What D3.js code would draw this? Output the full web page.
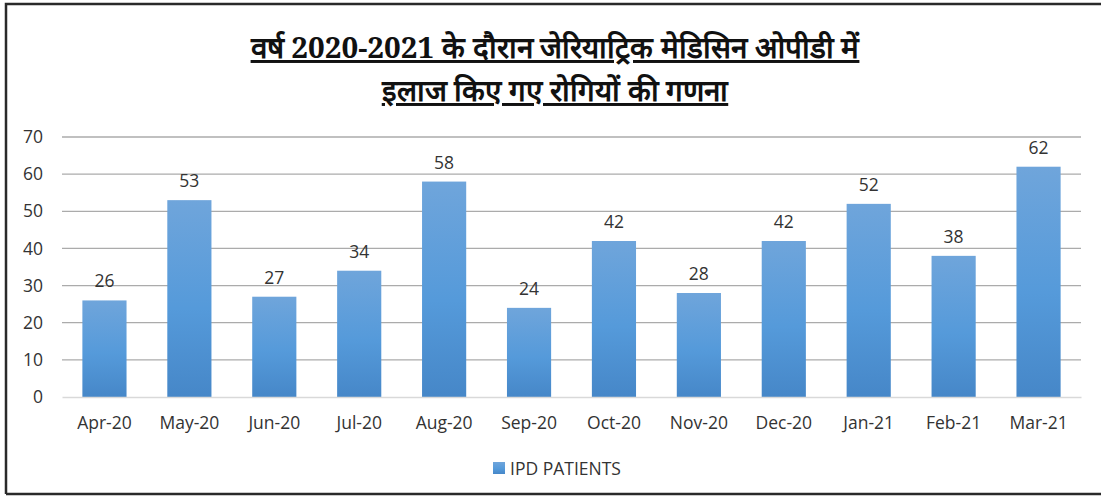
<!DOCTYPE html>
<html>
<head>
<meta charset="utf-8">
<script src="https://cdn.jsdelivr.net/npm/d3@7"></script>
<style>
  body { margin: 0; background: #fff; }
  svg { display: block; }
</style>
</head>
<body>
<script>
const width = 1101;
const height = 496;

const months = ["Apr-20", "May-20", "Jun-20", "Jul-20", "Aug-20", "Sep-20",
  "Oct-20", "Nov-20", "Dec-20", "Jan-21", "Feb-21", "Mar-21"];
const patients = [26, 53, 27, 34, 58, 24, 42, 28, 42, 52, 38, 62];
const yTicks = [0, 10, 20, 30, 40, 50, 60, 70];
const titleLines = ["वर्ष 2020-2021 के दौरान जेरियाट्रिक मेडिसिन ओपीडी में",
  "इलाज किए गए रोगियों की गणना"];
const seriesName = "IPD PATIENTS";

const padding = {left: 62, right: 20, top: 137, bottom: 99};
const labelFont = "'Open Sans', sans-serif";
const labelSize = 17.5;

const svg = d3.select("body")
  .append("svg")
  .attr("width", width)
  .attr("height", height);

const defs = svg.append("defs");
const grad = defs.append("linearGradient")
  .attr("id", "barGrad")
  .attr("x1", 0).attr("y1", 0).attr("x2", 0).attr("y2", 1);
grad.append("stop").attr("offset", "0%").attr("stop-color", "#6fa5db");
grad.append("stop").attr("offset", "55%").attr("stop-color", "#559ada");
grad.append("stop").attr("offset", "100%").attr("stop-color", "#4687c8");

// frame (no right edge)
svg.append("path")
  .attr("d", "M6,494 L6,4 L1101,4 M6,494 L1101,494")
  .attr("fill", "none")
  .attr("stroke", "#2a2a2a")
  .attr("stroke-width", 2.5);

// title
const title = svg.append("g")
  .attr("font-family", "'Noto Serif', 'Liberation Serif', serif")
  .attr("font-weight", "bold")
  .attr("font-size", 29.6)
  .attr("fill", "#111")
  .attr("text-anchor", "middle");
titleLines.forEach((t, i) => {
  title.append("text")
    .attr("x", 555)
    .attr("y", 58 + i * 43)
    .attr("text-decoration", "underline")
    .text(t);
});

const xScale = d3.scaleBand()
  .domain(months)
  .range([padding.left, width - padding.right])
  .paddingInner(0.48)
  .paddingOuter(0.24);

const yScale = d3.scaleLinear()
  .domain([0, 70])
  .range([height - padding.bottom, padding.top]);

// gridlines
svg.append("g")
  .selectAll("line")
  .data(yTicks.filter(d => d > 0))
  .join("line")
  .attr("x1", padding.left)
  .attr("x2", width - padding.right)
  .attr("y1", d => yScale(d))
  .attr("y2", d => yScale(d))
  .attr("stroke", "#ababab")
  .attr("stroke-width", 1.3);

// y labels
const yAxis = d3.axisLeft(yScale).tickValues(yTicks).tickSize(0).tickPadding(19);
svg.append("g")
  .attr("transform", "translate(" + padding.left + ",0)")
  .call(yAxis)
  .call(g => g.select(".domain").remove())
  .selectAll("text")
  .attr("font-family", labelFont)
  .attr("font-size", labelSize)
  .attr("fill", "#333");

// bars
svg.append("g")
  .selectAll("rect")
  .data(patients)
  .join("rect")
  .attr("x", (d, i) => xScale(months[i]))
  .attr("width", xScale.bandwidth())
  .attr("y", d => yScale(d))
  .attr("height", d => yScale(0) - yScale(d))
  .attr("fill", "url(#barGrad)");

// value labels
svg.append("g")
  .selectAll("text")
  .data(patients)
  .join("text")
  .attr("x", (d, i) => xScale(months[i]) + xScale.bandwidth() / 2)
  .attr("y", d => yScale(d) - 13)
  .attr("text-anchor", "middle")
  .attr("font-family", labelFont)
  .attr("font-size", labelSize)
  .attr("fill", "#333")
  .text(d => d);

// x axis
const xAxis = d3.axisBottom(xScale).tickSize(0).tickPadding(20);
svg.append("g")
  .attr("transform", "translate(0," + yScale(0) + ")")
  .call(xAxis)
  .call(g => g.select(".domain")
    .attr("stroke", "#d9d9d9")
    .attr("stroke-width", 1.5))
  .selectAll("text")
  .attr("font-family", labelFont)
  .attr("font-size", labelSize)
  .attr("fill", "#333");

// legend
const legend = svg.append("g").attr("transform", "translate(493,469)");
legend.append("rect")
  .attr("x", 0).attr("y", -7)
  .attr("width", 12).attr("height", 12)
  .attr("fill", "url(#barGrad)");
legend.append("text")
  .attr("x", 17)
  .attr("y", 6)
  .attr("font-family", labelFont)
  .attr("font-size", labelSize)
  .attr("fill", "#333")
  .text(seriesName);
</script>
</body>
</html>
